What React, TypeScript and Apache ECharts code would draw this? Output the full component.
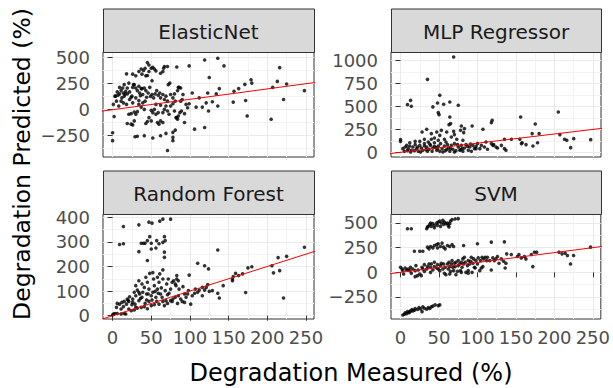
import React, { useEffect, useRef } from "react";
import * as echarts from "echarts";

const panelNames = ["ElasticNet", "MLP Regressor", "Random Forest", "SVM"];
const xTicks = [0, 50, 100, 150, 200, 250];
const yTicksElastic = [-250, 0, 250, 500];
const yTicksMLP = [0, 250, 500, 750, 1000];
const yTicksRF = [0, 100, 200, 300, 400];
const yTicksSVM = [-250, 0, 250, 500];
const identityLine = [-20, 280];

const elasticNet = [
  [0, -222], [0, -298], [2, -66], [1, 51], [3, 130], [18, 345], [26, 342], [30, 326], [34, 367], [37, 392],
  [38, 342], [40, 377], [42, 399], [45, 453], [47, 430], [50, 399], [52, 408], [54, 392], [56, 373], [47, 367],
  [45, 329], [43, 326], [51, 279], [62, 351], [66, 399], [67, 415], [71, 415], [65, 367], [83, 411], [99, 421],
  [119, 478], [136, 495], [144, 421], [125, 310], [216, 405], [179, 288], [180, 256], [171, 244], [163, 203], [157, 177],
  [156, 73], [172, 89], [174, -60], [205, -92], [207, 215], [213, 272], [225, 247], [221, 98], [248, 184], [136, 35],
  [129, 76], [121, 66], [124, -13], [116, 25], [108, 25], [106, -187], [119, -171], [138, 203], [134, 152], [123, 161],
  [112, 114], [103, 161], [99, 57], [97, 19], [91, 146], [88, 209], [85, 215], [93, -38], [93, -123], [83, -76],
  [81, -196], [78, -218], [78, -298], [78, -266], [71, -392], [69, -228], [62, -250], [52, -272], [41, -250], [32, -256],
  [29, -260], [26, -146], [19, -133], [24, -139], [28, -108], [30, -44], [32, -19], [28, -22], [24, -38], [21, -44],
  [47, -76], [45, -114], [43, -133], [50, -108], [58, -123], [60, -139], [62, -108], [65, -123], [59, -28], [65, -28],
  [67, 3], [71, -13], [73, -44], [75, 35], [80, -13], [82, -76], [84, -92], [85, -60], [87, -28], [89, -13],
  [52, -28], [56, -44], [54, 3], [50, -6], [41, 3], [37, 25], [34, 51], [39, 66], [4, 130], [6, 171],
  [9, 152], [11, 184], [12, 114], [14, 161], [15, 130], [17, 177], [19, 152], [22, 171], [22, 98], [25, 130],
  [26, 215], [28, 241], [30, 114], [32, 184], [34, 225], [35, 161], [37, 203], [39, 146], [41, 209], [43, 184],
  [44, 120], [46, 161], [48, 215], [51, 146], [53, 114], [55, 152], [57, 184], [59, 139], [61, 161], [62, 114],
  [65, 146], [67, 98], [69, 130], [71, 82], [72, 241], [74, 256], [75, 146], [78, 114], [80, 152], [81, 82],
  [84, 184], [86, 215], [88, 82], [90, 98], [95, 51], [14, 66], [11, 82], [8, 35], [5, 82], [18, 51],
  [26, 66], [34, 89], [42, 82], [56, 51], [62, 44], [69, 35], [78, 57], [21, 256], [27, 241], [19, 209],
  [38, 203], [30, 209], [13, 209], [9, 215], [15, 241], [7, 140], [16, 150], [24, 120], [36, 135], [49, 128],
];

const mlpRegressor = [
  [69, 1040], [35, 796], [13, 567], [9, 520], [14, 502], [51, 622], [48, 538], [42, 495], [56, 524], [64, 549],
  [75, 513], [49, 433], [50, 411], [64, 385], [65, 313], [63, 302], [34, 251], [28, 222], [40, 204], [47, 222],
  [53, 240], [51, 185], [60, 222], [69, 229], [70, 193], [79, 287], [78, 240], [83, 258], [82, 215], [93, 287],
  [107, 251], [118, 324], [119, 349], [156, 385], [175, 309], [171, 204], [180, 204], [205, 440], [207, 193], [213, 142],
  [216, 131], [225, 149], [221, 51], [247, 138], [0, 138], [0, 120], [135, 142], [144, 142], [155, 142], [158, 105],
  [163, 84], [157, 95], [172, 69], [178, 105], [137, 22], [135, 40], [131, 76], [124, 58], [118, 95], [121, 84],
  [111, 113], [109, 58], [105, 76], [100, 95], [98, 40], [3, 40], [6, 58], [8, 76], [10, 40], [12, 69],
  [14, 22], [16, 58], [19, 84], [21, 40], [23, 11], [25, 76], [27, 47], [29, 22], [31, 95], [34, 58],
  [36, 113], [37, 33], [39, 76], [41, 11], [42, 47], [44, 105], [47, 22], [49, 69], [51, 11], [52, 95],
  [54, 40], [57, 69], [58, 18], [59, 113], [62, 47], [64, 11], [66, 76], [68, 33], [70, 95], [72, 18],
  [75, 58], [77, 22], [79, 76], [81, 11], [83, 47], [85, 84], [88, 22], [90, 58], [92, 11], [94, 76],
  [96, 40], [5, 11], [9, 18], [13, 4], [18, 18], [22, 58], [26, 4], [31, 69], [35, 11], [38, 91],
  [44, 65], [48, 40], [55, 4], [61, 84], [65, 40], [70, 4], [74, 84], [80, 40], [87, 65], [91, 91],
  [98, 65], [103, 40], [113, 33], [120, 76], [126, 47], [40, 142], [44, 156], [49, 131], [57, 142], [66, 167],
  [73, 142], [81, 131], [31, 142], [25, 120], [19, 120], [12, 105], [33, 30], [46, 52], [60, 30], [78, 30],
];

const randomForest = [
  [14, 362], [9, 289], [14, 292], [34, 369], [47, 380], [51, 376], [61, 384], [65, 392], [75, 392], [48, 321],
  [57, 305], [60, 292], [65, 298], [67, 321], [68, 305], [37, 294], [40, 294], [42, 294], [45, 305], [50, 271],
  [50, 294], [56, 275], [34, 260], [45, 224], [67, 258], [67, 237], [65, 186], [52, 175], [136, 267], [248, 278],
  [225, 241], [214, 236], [206, 203], [208, 174], [216, 183], [221, 72], [172, 94], [180, 199], [175, 194], [159, 172],
  [156, 159], [155, 142], [110, 213], [119, 203], [124, 190], [99, 165], [83, 163], [83, 149], [143, 122], [136, 91],
  [138, 72], [129, 102], [123, 126], [125, 99], [116, 115], [116, 81], [107, 108], [101, 47], [93, 54], [98, 102],
  [93, 88], [86, 108], [91, 118], [88, 68], [84, 50], [77, 58], [73, 91], [81, 129], [79, 142], [75, 108],
  [71, 85], [69, 61], [64, 75], [63, 113], [60, 136], [59, 91], [58, 108], [56, 75], [54, 122], [52, 95],
  [50, 81], [47, 108], [47, 58], [45, 136], [44, 88], [42, 50], [41, 115], [39, 95], [38, 75], [35, 88],
  [34, 61], [32, 104], [30, 81], [29, 47], [28, 95], [26, 68], [25, 45], [22, 77], [21, 58], [19, 68],
  [18, 47], [15, 58], [14, 37], [12, 54], [11, 27], [9, 47], [6, 50], [5, 34], [3, 9], [1, 7],
  [0, 3], [6, 9], [11, 7], [15, 9], [17, 7], [21, 27], [24, 20], [28, 23], [32, 31], [37, 34],
  [41, 37], [45, 28], [50, 41], [54, 45], [57, 58], [60, 47], [65, 58], [67, 41], [71, 50], [75, 61],
  [78, 68], [81, 75], [85, 81], [90, 58], [95, 75], [97, 88], [103, 81], [106, 91], [110, 95], [112, 104],
  [119, 104], [121, 115], [30, 122], [34, 142], [38, 129], [43, 156], [48, 172], [53, 149], [58, 156], [61, 170],
  [65, 149], [70, 129], [72, 149], [77, 136], [82, 122], [85, 142], [34, 95], [46, 88], [51, 64], [62, 88],
  [68, 102], [30, 34], [155, 149], [163, 163], [168, 170], [20, 62], [26, 55], [36, 70], [44, 64], [55, 99],
];

const svm = [
  [9, 442], [14, 442], [34, 442], [36, 466], [38, 483], [40, 466], [42, 493], [44, 476], [47, 500], [49, 510],
  [51, 520], [53, 500], [55, 527], [57, 510], [59, 493], [62, 476], [64, 493], [65, 520], [67, 534], [71, 541],
  [75, 544], [35, 459], [39, 500], [44, 452], [48, 476], [52, 466], [56, 486], [61, 500], [63, 459], [18, 214],
  [25, 214], [29, 214], [37, 238], [39, 262], [42, 248], [44, 272], [48, 248], [49, 289], [52, 262], [54, 296],
  [56, 255], [58, 238], [61, 272], [64, 262], [67, 282], [69, 262], [82, 272], [100, 289], [118, 306], [135, 309],
  [35, 255], [47, 282], [5, -425], [6, -411], [9, -398], [11, -408], [13, -391], [15, -377], [18, -384], [19, -367],
  [22, -377], [24, -357], [26, -371], [28, -398], [29, -350], [31, -364], [34, -374], [36, -357], [38, -367], [40, -350],
  [42, -343], [45, -330], [49, -337], [51, -330], [3, -432], [8, -418], [12, -401], [16, -391], [0, 51], [2, 34],
  [4, -17], [6, 44], [8, 24], [10, 34], [12, 17], [14, -10], [16, 34], [19, 17], [19, -44], [22, -34],
  [23, 24], [25, -17], [27, -34], [28, 51], [29, 34], [31, 78], [34, 34], [35, 58], [37, 85], [39, 51],
  [40, 85], [42, 24], [44, 58], [44, 102], [47, 44], [48, 78], [49, 34], [51, 17], [52, 68], [53, 92],
  [55, 34], [56, 85], [57, -10], [58, 51], [59, -24], [61, 85], [62, 34], [63, 102], [64, 58], [65, 10],
  [66, 85], [67, 119], [68, 51], [69, 17], [70, 92], [71, 58], [72, 102], [74, 10], [75, 68], [75, 119],
  [77, 85], [78, 17], [79, 102], [80, 51], [81, 136], [82, 85], [83, 153], [84, 102], [85, 0], [87, 68],
  [88, 119], [88, 17], [90, 85], [91, 112], [92, 153], [93, 0], [94, 92], [95, 136], [96, 51], [98, 119],
  [100, 85], [101, 146], [103, 17], [104, 119], [106, 153], [107, 58], [108, 136], [110, 153], [112, 119], [113, 153],
  [116, 119], [118, 24], [120, 146], [122, 119], [124, 136], [126, 160], [128, 92], [131, 136], [134, 112], [137, 92],
  [136, 44], [138, 187], [144, 180], [152, 160], [154, 180], [157, 146], [161, 160], [163, 136], [172, 58], [170, 180],
  [174, 204], [177, 204], [206, 204], [210, 187], [214, 194], [217, 170], [225, 170], [221, 85], [247, 255], [3, 17],
  [13, 51], [20, 68], [31, 10], [39, 0], [64, -17], [72, -24], [79, 0], [88, -10], [97, 44], [105, 44],
];

const X_RANGE = [-12.4, 260.4];
const FONT = "DejaVu Sans";

const fmt = (v: number) => (v < 0 ? "\u2212" + Math.abs(v) : String(v));

function makeX(gridIndex: number, showLabels: boolean) {
  return {
    type: "value",
    gridIndex,
    min: X_RANGE[0],
    max: X_RANGE[1],
    minInterval: 50,
    maxInterval: 50,
    axisLine: { show: false },
    axisTick: { show: showLabels, length: 5, customValues: xTicks, lineStyle: { color: "#333333", width: 1 } },
    axisLabel: {
      show: showLabels,
      customValues: xTicks,
      margin: 9,
      fontSize: 18,
      fontFamily: FONT,
      color: "#4d4d4d",
      formatter: fmt,
    },
    splitLine: { show: true, lineStyle: { color: "#ebebeb", width: 1.2 } },
    minorTick: { show: false, splitNumber: 2 },
    minorSplitLine: { show: true, lineStyle: { color: "#f3f3f3", width: 1 } },
  };
}

function makeY(gridIndex: number, min: number, max: number, step: number, ticks: number[]) {
  return {
    type: "value",
    gridIndex,
    min,
    max,
    minInterval: step,
    maxInterval: step,
    axisLine: { show: false },
    axisTick: { show: true, length: 5, customValues: ticks, lineStyle: { color: "#333333", width: 1 } },
    axisLabel: {
      show: true,
      customValues: ticks,
      margin: 13,
      fontSize: 18,
      fontFamily: FONT,
      color: "#4d4d4d",
      formatter: fmt,
    },
    splitLine: { show: true, lineStyle: { color: "#ebebeb", width: 1.2 } },
    minorTick: { show: false, splitNumber: 2 },
    minorSplitLine: { show: true, lineStyle: { color: "#f3f3f3", width: 1 } },
  };
}

const panelBoxes = [
  { left: 103, top: 52, width: 211, height: 105 },
  { left: 391, top: 52, width: 210, height: 105 },
  { left: 103, top: 214, width: 211, height: 105 },
  { left: 391, top: 214, width: 210, height: 105 },
];

export default function App() {
  const ref = useRef<HTMLDivElement>(null);
  useEffect(() => {
    if (!ref.current) return;
    const chart = echarts.init(ref.current, null, { renderer: "svg" });
    const datasets = [elasticNet, mlpRegressor, randomForest, svm];
    const series: any[] = [];
    datasets.forEach((d, i) => {
      series.push({
        type: "scatter",
        xAxisIndex: i,
        yAxisIndex: i,
        data: d,
        symbol: "circle",
        symbolSize: 3.6,
        itemStyle: { color: "#000000" },
        silent: true,
        z: 2,
      });
      series.push({
        type: "line",
        xAxisIndex: i,
        yAxisIndex: i,
        data: [
          [identityLine[0], identityLine[0]],
          [identityLine[1], identityLine[1]],
        ],
        symbol: "none",
        clip: true,
        lineStyle: { color: "#ff0000", width: 1 },
        silent: true,
        z: 3,
      });
    });
    const graphics: any[] = [];
    panelBoxes.forEach((b, i) => {
      const stripTop = b.top - 43.5;
      graphics.push({
        type: "rect",
        shape: { x: b.left + 0.5, y: stripTop + 0.5, width: b.width, height: 43.5 },
        style: { fill: "#d9d9d9", stroke: "#333333", lineWidth: 1 },
        z: 10,
      });
      graphics.push({
        type: "text",
        x: b.left + b.width / 2,
        y: stripTop + 23,
        style: {
          text: panelNames[i],
          fontSize: 20,
          fontFamily: FONT,
          fill: "#1a1a1a",
          align: "center",
          verticalAlign: "middle",
        },
        z: 11,
      });
    });
    graphics.push({
      type: "text",
      x: 351,
      y: 373,
      style: {
        text: "Degradation Measured (%)",
        fontSize: 24,
        fontFamily: FONT,
        fill: "#000000",
        align: "center",
        verticalAlign: "middle",
      },
    });
    graphics.push({
      type: "text",
      x: 22,
      y: 164,
      rotation: Math.PI / 2,
      style: {
        text: "Degradation Predicted (%)",
        fontSize: 23.5,
        fontFamily: FONT,
        fill: "#000000",
        align: "center",
        verticalAlign: "middle",
      },
    });
    chart.setOption({
      animation: false,
      backgroundColor: "#ffffff",
      textStyle: { fontFamily: FONT },
      grid: panelBoxes.map((b) => ({
        left: b.left,
        top: b.top,
        width: b.width,
        height: b.height,
        show: true,
        backgroundColor: "#ffffff",
        borderColor: "#333333",
        borderWidth: 1,
        containLabel: false,
      })),
      xAxis: [makeX(0, false), makeX(1, false), makeX(2, true), makeX(3, true)],
      yAxis: [
        makeY(0, -455, 555, 250, yTicksElastic),
        makeY(1, -51, 1094, 250, yTicksMLP),
        makeY(2, -13.4, 413, 100, yTicksRF),
        makeY(3, -473, 591, 250, yTicksSVM),
      ],
      series,
      graphic: graphics,
    });
    return () => chart.dispose();
  }, []);
  return (
    <div
      ref={ref}
      style={{ position: "fixed", left: 0, top: 0, width: 613, height: 388, background: "#fff" }}
    />
  );
}
